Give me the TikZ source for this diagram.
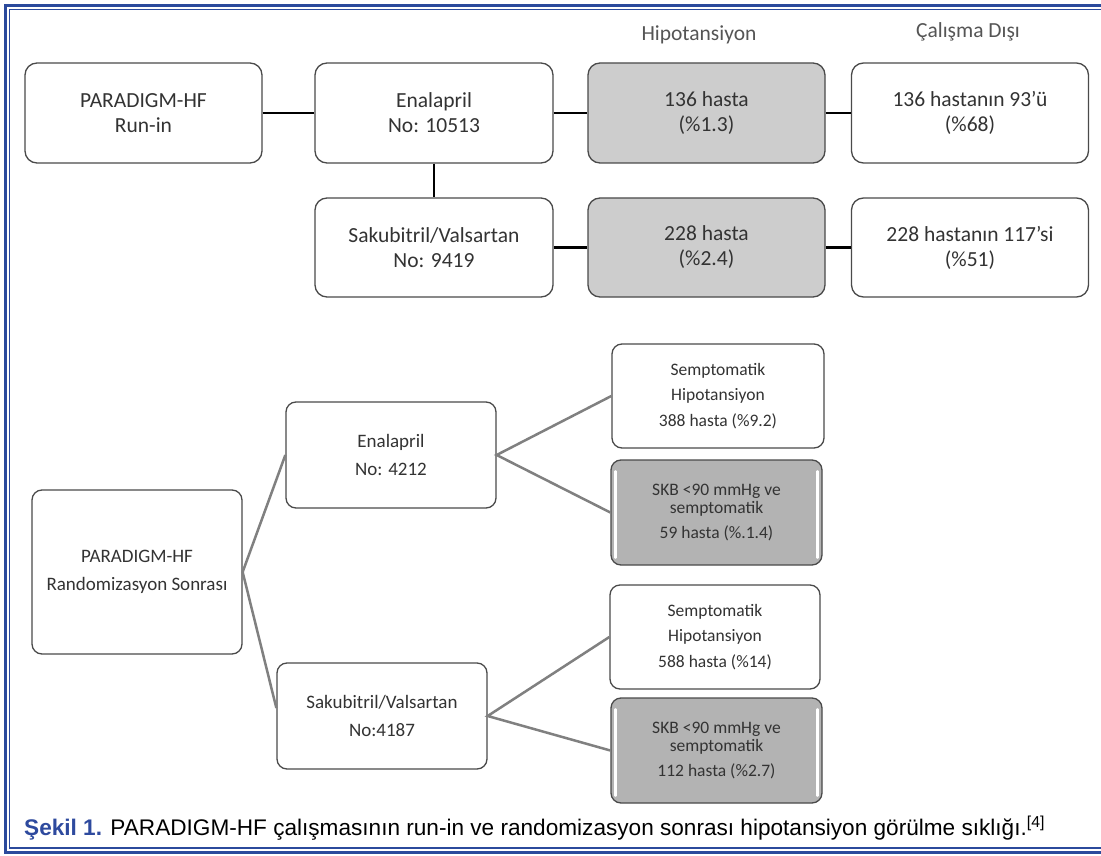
\documentclass[tikz,border=0pt]{standalone}
\usepackage{fontspec}
\setmainfont{Carlito}
\newfontfamily\capfont{Liberation Sans}
\definecolor{frameblue}{HTML}{2B4A9C}
\definecolor{txt}{HTML}{333333}
\definecolor{hdr}{HTML}{555555}
\definecolor{boxline}{HTML}{4A4A4A}
\definecolor{lightfill}{HTML}{CDCDCD}
\definecolor{darkfill}{HTML}{B3B3B3}
\definecolor{connbot}{HTML}{808080}
\definecolor{capblue}{HTML}{2E4A9E}
\begin{document}
\begin{tikzpicture}[x=1pt,y=-1pt,
  box/.style={draw=boxline, line width=1.3pt, rounded corners=12pt, fill=white, inner sep=0pt, align=center, text=txt},
  topbox/.style={box, minimum width=237pt, minimum height=100pt, font=\fontsize{21.5}{25}\selectfont},
  hypbox/.style={topbox, fill=lightfill},
  midbox/.style={box, rounded corners=10pt, minimum width=210pt, minimum height=106pt, font=\fontsize{19}{28}\selectfont},
  symbox/.style={box, rounded corners=10pt, minimum width=212pt, minimum height=104pt, font=\fontsize{17.5}{25.5}\selectfont},
  skbbox/.style={box, rounded corners=10pt, fill=darkfill, minimum width=211pt, minimum height=105pt, font=\fontsize{17.5}{18}\selectfont},
  hdrtext/.style={text=hdr, inner sep=0pt, font=\fontsize{21.5}{25}\selectfont},
  topconn/.style={draw=black, line width=2.8pt},
  botconn/.style={draw=connbot, line width=2.5pt},
  gloss/.style={draw=white, line width=2.6pt, line cap=round}
]
\useasboundingbox (0,0) rectangle (1101,856);
\clip (0,0) rectangle (1101,856);
\fill[white] (0,0) rectangle (1101,856);
% frame
\draw[frameblue, line width=3pt] (5.5,5.5) rectangle (1130,852);
\draw[frameblue, line width=1.2pt] (9.5,9.5) rectangle (1125,848);

% headers
\node[hdrtext] (hH) at (699,35) {Hipotansiyon};
\node[hdrtext] (hC) at (968,32) {Çalışma Dışı};

% top section
\node[topbox] (runin) at (143.5,113) {PARADIGM-HF\\Run-in};
\node[topbox, minimum width=238pt] (ena1) at (434,113) {Enalapril\\No: 10513};
\node[topbox, minimum width=238pt, minimum height=99pt] (sak1) at (434,247.5) {Sakubitril/Valsartan\\No: 9419};
\node[hypbox] (hyp1) at (706.5,113) {136 hasta\\(\%1.3)};
\node[hypbox, minimum height=99pt] (hyp2) at (706.5,247.5) {228 hasta\\(\%2.4)};
\node[topbox] (out1) at (970,113) {136 hastanın 93’ü\\(\%68)};
\node[topbox, minimum height=99pt] (out2) at (970,247.5) {228 hastanın 117’si\\(\%51)};

\draw[topconn] (runin.east) -- (ena1.west);
\draw[topconn] (ena1.east) -- (hyp1.west);
\draw[topconn] (hyp1.east) -- (out1.west);
\draw[topconn] (ena1.south) -- (sak1.north);
\draw[topconn] (sak1.east) -- (hyp2.west);
\draw[topconn] (hyp2.east) -- (out2.west);

% bottom section
\node[midbox, minimum height=164pt] (rand) at (137,572) {PARADIGM-HF\\Randomizasyon Sonrası};
\node[midbox] (ena2) at (391,455) {Enalapril\\No: 4212};
\node[midbox] (sak2) at (382,716) {Sakubitril/Valsartan\\No:4187};
\node[symbox] (sym1) at (718,396) {Semptomatik\\Hipotansiyon\\388 hasta (\%9.2)};
\node[skbbox] (skb1) at (716.5,512.5) {SKB <90 mmHg ve\\semptomatik\\[7pt]59 hasta (\%.1.4)};
\node[symbox, minimum width=210pt] (sym2) at (715,637) {Semptomatik\\Hipotansiyon\\588 hasta (\%14)};
\node[skbbox] (skb2) at (716.5,750.5) {SKB <90 mmHg ve\\semptomatik\\[7pt]112 hasta (\%2.7)};

\foreach \n in {skb1,skb2}{
  \draw[gloss] ([xshift=5pt,yshift=-12pt]\n.north west) -- ([xshift=5pt,yshift=8pt]\n.south west);
  \draw[gloss] ([xshift=-5pt,yshift=-12pt]\n.north east) -- ([xshift=-5pt,yshift=8pt]\n.south east);
}

\draw[botconn] (ena2.west) -- (rand.east) -- ([yshift=8pt]sak2.west);
\draw[botconn] (sym1.west) -- (ena2.east) -- (skb1.west);
\draw[botconn] (sym2.west) -- (sak2.east) -- (skb2.west);

% caption
\node[anchor=base west, inner sep=0pt, font=\capfont\fontsize{22.6}{26}\selectfont] (cap) at (24,835)
  {\textcolor{capblue}{\bfseries Şekil 1.} PARADIGM-HF çalışmasının run-in ve randomizasyon sonrası hipotansiyon görülme sıklığı.\textsuperscript{[4]}};
\end{tikzpicture}
\end{document}
